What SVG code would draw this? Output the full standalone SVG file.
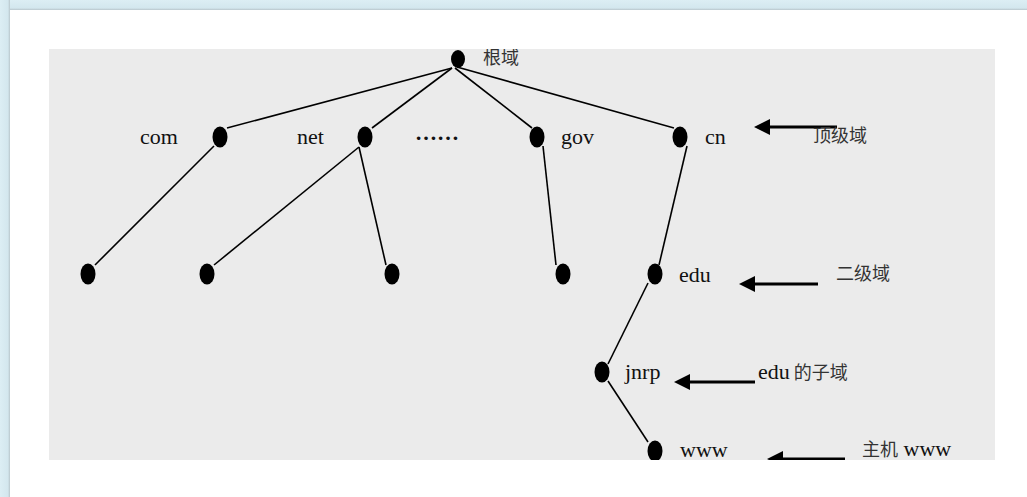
<svg xmlns="http://www.w3.org/2000/svg" width="1027" height="497" viewBox="0 0 1027 497">
<defs>
<style>
.lbl{font-family:"Liberation Serif","Times New Roman",serif;font-size:22px;fill:#111}
.cjk{font-family:"Noto Sans CJK SC","Noto Sans",sans-serif;font-size:18px;fill:#333}
.node{fill:#000}
.edge{stroke:#000;stroke-width:1.6;fill:none}
.arr{stroke:#000;stroke-width:3.2;fill:none}
</style>
<marker id="head" viewBox="0 0 16 16" refX="0" refY="8" markerWidth="16" markerHeight="16" markerUnits="userSpaceOnUse" orient="auto">
<path d="M0,0 L16,8 L0,16 z" fill="#000"/>
</marker>
<clipPath id="area"><rect x="49" y="49" width="946" height="411"/></clipPath>
<linearGradient id="topband" x1="0" y1="0" x2="0" y2="1">
<stop offset="0" stop-color="#dceef4"/><stop offset="0.8" stop-color="#d3e7ee"/><stop offset="1" stop-color="#b8c6cb"/>
</linearGradient>
<linearGradient id="leftband" x1="0" y1="0" x2="1" y2="0">
<stop offset="0" stop-color="#dceef4"/><stop offset="0.8" stop-color="#d3e7ee"/><stop offset="1" stop-color="#b8c6cb"/>
</linearGradient>
</defs>
<rect x="0" y="0" width="1027" height="497" fill="#ffffff"/>
<rect x="0" y="0" width="1027" height="10" fill="url(#topband)"/>
<rect x="0" y="0" width="10" height="497" fill="url(#leftband)"/>
<rect x="49" y="49" width="946" height="411" fill="#ebebeb"/>
<g clip-path="url(#area)">
<g id="connectors">
<line class="edge" x1="452" y1="68" x2="227" y2="128"/>
<line class="edge" x1="452" y1="68" x2="372" y2="128"/>
<line class="edge" x1="455" y1="68" x2="532" y2="128"/>
<line class="edge" x1="457" y1="67" x2="674" y2="128"/>
<line class="edge" x1="214" y1="146" x2="95" y2="265"/>
<line class="edge" x1="359" y1="147" x2="214" y2="265"/>
<line class="edge" x1="359" y1="147" x2="386" y2="265"/>
<line class="edge" x1="543" y1="146" x2="556" y2="265"/>
<line class="edge" x1="687" y1="146" x2="659" y2="265"/>
<line class="edge" x1="648" y1="283" x2="608" y2="364"/>
<line class="edge" x1="608" y1="381" x2="648" y2="442"/>
<line class="arr" x1="837" y1="127" x2="770" y2="127" marker-end="url(#head)"/>
<line class="arr" x1="818" y1="284" x2="755" y2="284" marker-end="url(#head)"/>
<line class="arr" x1="755" y1="382" x2="690" y2="382" marker-end="url(#head)"/>
<line class="arr" x1="845" y1="459" x2="783" y2="459" stroke-width="2.4" marker-end="url(#head)"/>
</g>
<g id="root"><ellipse class="node" cx="458" cy="59" rx="7" ry="9"/><text class="cjk" x="483" y="64">根域</text></g>
<g id="com"><ellipse class="node" cx="220" cy="137" rx="7.5" ry="10.5"/><text class="lbl" x="140" y="144">com</text></g>
<g id="net"><ellipse class="node" cx="365" cy="137" rx="7.5" ry="10.5"/><text class="lbl" x="297" y="144">net</text></g>
<g id="dots"><text class="lbl" x="415" y="140" font-size="25" font-weight="bold">……</text></g>
<g id="gov"><ellipse class="node" cx="537" cy="137" rx="7.5" ry="10.5"/><text class="lbl" x="561" y="144">gov</text></g>
<g id="cn"><ellipse class="node" cx="680" cy="137" rx="7.5" ry="10.5"/><text class="lbl" x="705" y="144">cn</text></g>
<g id="com-child"><ellipse class="node" cx="88" cy="274" rx="7.5" ry="10.5"/></g>
<g id="net-child1"><ellipse class="node" cx="207" cy="274" rx="7.5" ry="10.5"/></g>
<g id="net-child2"><ellipse class="node" cx="392" cy="274" rx="7.5" ry="10.5"/></g>
<g id="gov-child"><ellipse class="node" cx="563" cy="274" rx="7.5" ry="10.5"/></g>
<g id="edu"><ellipse class="node" cx="655" cy="274" rx="7.5" ry="10.5"/><text class="lbl" x="679" y="282">edu</text></g>
<g id="jnrp"><ellipse class="node" cx="602" cy="372" rx="7.5" ry="10.5"/><text class="lbl" x="625" y="379" font-size="25">jnrp</text></g>
<g id="www"><ellipse class="node" cx="655" cy="451" rx="7.5" ry="10.5"/><text class="lbl" x="680" y="457">www</text></g>
<g id="label-top"><text class="cjk" x="813" y="142">顶级域</text></g>
<g id="label-second"><text class="cjk" x="836" y="280">二级域</text></g>
<g id="label-sub"><text x="758" y="379"><tspan class="lbl">edu</tspan><tspan class="cjk"> 的子域</tspan></text></g>
<g id="label-host"><text x="862" y="456"><tspan class="cjk">主机</tspan><tspan class="lbl" font-size="20"> www</tspan></text></g>
</g>
</svg>
